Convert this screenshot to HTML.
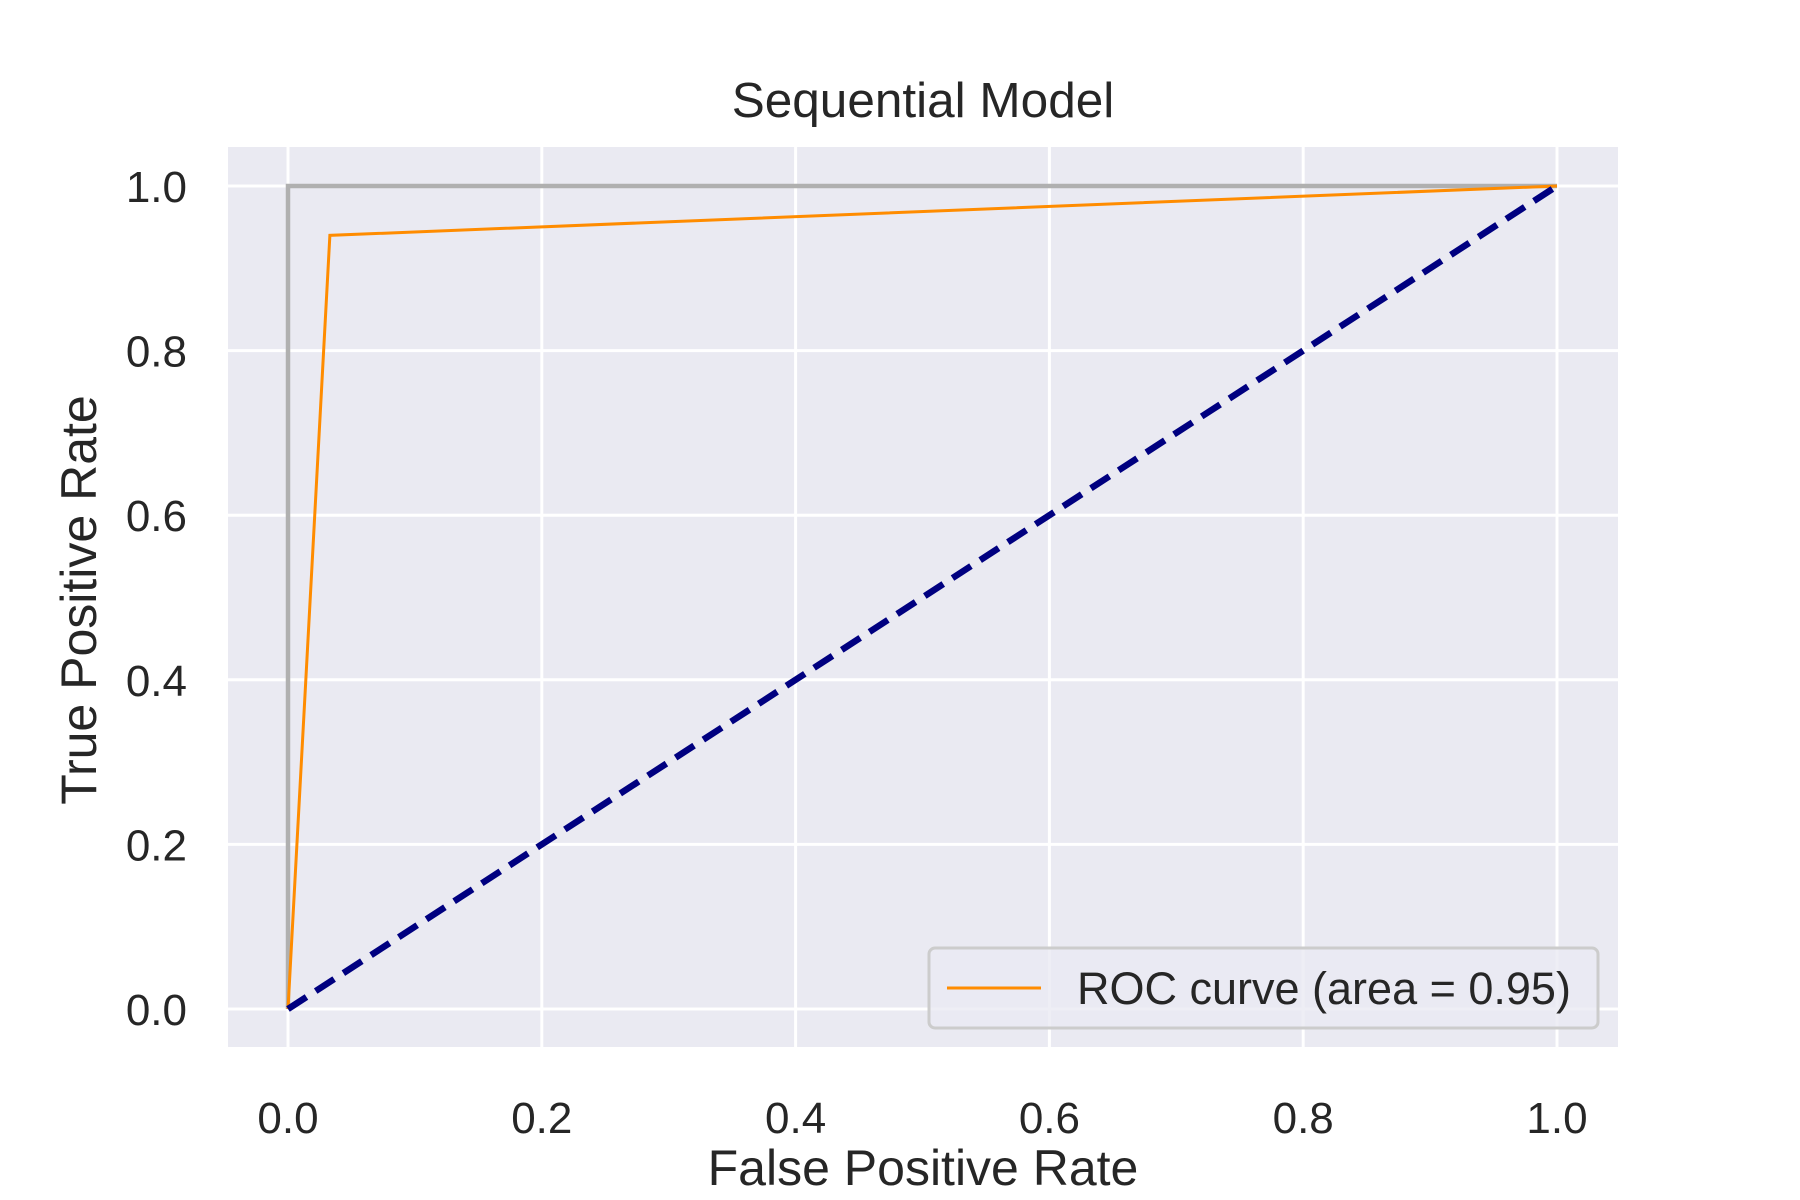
<!DOCTYPE html>
<html><head><meta charset="utf-8"><style>
html,body{margin:0;padding:0;background:#fff;}
svg{display:block;font-family:"Liberation Sans",Arial,sans-serif;}
</style></head><body>
<svg id="chart" width="1800" height="1200" viewBox="0 0 1800 1200" xmlns="http://www.w3.org/2000/svg">
<rect x="0" y="0" width="1800" height="1200" fill="#fff"/>
<rect x="228" y="147" width="1390" height="900" fill="#eaeaf2"/>
<g id="grid"></g>
<g id="series"></g>
<g id="ticks"></g>
<text x="923" y="117" font-size="49.5" text-anchor="middle" fill="#262626">Sequential Model</text>
<text x="923" y="1185" font-size="50" text-anchor="middle" fill="#262626">False Positive Rate</text>
<text x="0" y="0" font-size="50" text-anchor="middle" fill="#262626" transform="translate(96,600) rotate(-90)">True Positive Rate</text>
<g>
<rect x="929" y="948" width="669" height="80" rx="6" fill="#eaeaf2" fill-opacity="0.8" stroke="#cccccc" stroke-width="3"/>
<line x1="947" y1="988" x2="1041" y2="988" stroke="#ff8c00" stroke-width="3"/>
<text x="1077" y="1004" font-size="45" fill="#262626">ROC curve (area = 0.95)</text>
</g>
</svg>
<script>
const xTicks = [0.0, 0.2, 0.4, 0.6, 0.8, 1.0];
const yTicks = [0.0, 0.2, 0.4, 0.6, 0.8, 1.0];
const tickLabels = ["0.0","0.2","0.4","0.6","0.8","1.0"];
const rocFpr = [0.0, 0.033, 1.0];
const rocTpr = [0.0, 0.94, 1.0];
const perfectFpr = [0.0, 0.0, 1.0];
const perfectTpr = [0.0, 1.0, 1.0];
const chanceFpr = [0.0, 1.0];
const chanceTpr = [0.0, 1.0];

const NS = "http://www.w3.org/2000/svg";
const X = v => 288 + v * 1269;
const Y = v => 1009 - v * 823;
function mk(tag, attrs, parent) {
  const e = document.createElementNS(NS, tag);
  for (const k in attrs) e.setAttribute(k, attrs[k]);
  parent.appendChild(e);
  return e;
}
const grid = document.getElementById('grid');
const ticks = document.getElementById('ticks');
const series = document.getElementById('series');
xTicks.forEach((v, i) => {
  const l = mk('line', {x1: X(v), x2: X(v), y1: 147, y2: 1047, stroke: '#fff', 'stroke-width': 3}, grid);
  
  
  const t = mk('text', {x: X(v), y: 1133, 'font-size': 44, 'text-anchor': 'middle', fill: '#262626'}, ticks);
  t.textContent = tickLabels[i];
  
  
});
yTicks.forEach((v, i) => {
  const l = mk('line', {x1: 228, x2: 1618, y1: Y(v), y2: Y(v), stroke: '#fff', 'stroke-width': 3}, grid);
  
  
  const t = mk('text', {x: 187, y: Y(v) + 16, 'font-size': 44, 'text-anchor': 'end', fill: '#262626'}, ticks);
  t.textContent = tickLabels[i];
  
  
});
function pts(xs, ys) { return xs.map((x, i) => X(x) + ',' + Y(ys[i])).join(' '); }
const p1 = mk('polyline', {points: pts(perfectFpr, perfectTpr), fill: 'none', stroke: '#b0b0b0', 'stroke-width': 4.5}, series);


const p2 = mk('polyline', {points: pts(rocFpr, rocTpr), fill: 'none', stroke: '#ff8c00', 'stroke-width': 3}, series);


const p3 = mk('polyline', {points: pts(chanceFpr, chanceTpr), fill: 'none', stroke: '#000080', 'stroke-width': 6.5, 'stroke-dasharray': '22 11'}, series);


</script>
</body></html>
